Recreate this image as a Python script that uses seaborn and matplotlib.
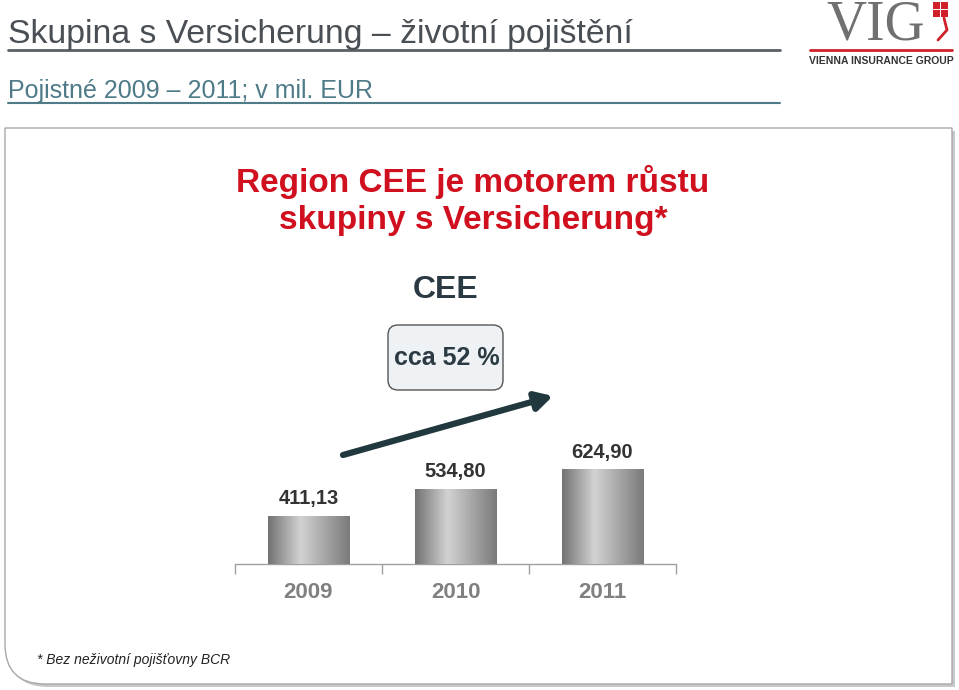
import numpy as np
import pandas as pd
import matplotlib
matplotlib.use("Agg")
import matplotlib.pyplot as plt
import seaborn as sns
from matplotlib.patches import Rectangle, FancyBboxPatch, PathPatch
from matplotlib.path import Path

# =========================
# DATA
# =========================

years = ["2009", "2010", "2011"]
premiums = [411.13, 534.80, 624.90]

title_main = "Skupina s Versicherung \u2013 \u017eivotn\u00ed poji\u0161t\u011bn\u00ed"
title_sub = "Pojistn\u00e9 2009 \u2013 2011; v mil. EUR"
headline = "Region CEE je motorem r\u016fstu\nskupiny s Versicherung*"
region_label = "CEE"
growth_label = "cca 52 %"
footnote = "* Bez ne\u017eivotn\u00ed poji\u0161\u0165ovny BCR"

df = pd.DataFrame({"Year": years, "Premium": premiums})

# =========================
# STYLE
# =========================

sns.set_style("white")
plt.rcParams["font.family"] = ["Liberation Sans", "DejaVu Sans"]

W, H = 959, 690
fig = plt.figure(figsize=(W / 100, H / 100), dpi=100)

# background canvas in pixel coords
bg = fig.add_axes([0, 0, 1, 1])
bg.set_xlim(0, W)
bg.set_ylim(H, 0)
bg.axis("off")

# =========================
# HEADER
# =========================

bg.text(8, 34, title_main, fontsize=24.3, color="#4a4f55", va="center", ha="left")
bg.plot([8, 780], [50, 50], color="#5a6066", lw=2)
bg.text(8, 91, title_sub, fontsize=18, color="#4f7a88", va="center", ha="left")
bg.plot([8, 780], [103, 103], color="#4f7a88", lw=1.5)

# logo
bg.text(876, 25, "VIG", fontsize=40, color="#707070", family="Liberation Serif",
        ha="center", va="center")
for dx, dy in [(0, 0), (8, 0), (0, 8), (8, 8)]:
    bg.add_patch(Rectangle((933 + dx, 2 + dy), 7, 7, color="#d0202a", lw=0))
bg.plot([944, 947, 938], [18, 30, 40], color="#d0202a", lw=2)
bg.plot([810, 952], [50, 50], color="#d0202a", lw=2)
bg.text(881, 61, "VIENNA INSURANCE GROUP", fontsize=7.5, fontweight="bold",
        color="#333333", ha="center", va="center")

# =========================
# PANEL
# =========================

r = 40
verts = [(5, 128), (952, 128), (952, 684), (5 + r, 684), (5, 684), (5, 684 - r), (5, 128)]
codes = [Path.MOVETO, Path.LINETO, Path.LINETO, Path.LINETO, Path.CURVE3, Path.CURVE3, Path.CLOSEPOLY]
shadow = [(x + 3, y + 3) for x, y in verts]
bg.add_patch(PathPatch(Path(shadow, codes), facecolor="#c8c8c8", edgecolor="none"))
bg.add_patch(PathPatch(Path(verts, codes), facecolor="white", edgecolor="#a8a8a8", lw=1))

bg.text(473, 200, headline, fontsize=24, fontweight="bold", color="#d0101e",
        ha="center", va="center", linespacing=1.25)
bg.text(446, 290, region_label, fontsize=23, fontweight="bold", color="#2b3a42",
        ha="center", va="center")

bg.add_patch(FancyBboxPatch((388, 325), 115, 65, boxstyle="round,pad=0,rounding_size=10",
                            facecolor="#eef2f5", edgecolor="#555555", lw=1))
bg.text(447, 358, growth_label, fontsize=18, fontweight="bold", color="#2b3a42",
        ha="center", va="center")

bg.annotate("", xy=(553, 396), xytext=(343, 455),
            arrowprops=dict(arrowstyle="-|>,head_length=1.0,head_width=0.55",
                            color="#22383f", lw=4.5, shrinkA=0, shrinkB=0))

bg.text(37, 660, footnote, fontsize=10, style="italic", color="#222222",
        ha="left", va="center")

# =========================
# BAR CHART
# =========================

ax = fig.add_axes([235 / W, (H - 564) / H, 441 / W, 140 / H])
ax.patch.set_alpha(0)

sns.barplot(data=df, x="Year", y="Premium", ax=ax, width=0.555,
            color="#aaaaaa", saturation=1)

# horizontal gradient fill on bars
g = np.concatenate([np.linspace(0.45, 0.82, 40), np.linspace(0.82, 0.48, 60)])
grad = np.tile(g, (2, 1))
for bar in ax.patches:
    x0, y0 = bar.get_x(), bar.get_y()
    bw, bh = bar.get_width(), bar.get_height()
    y_lo = max(y0, 194)
    im = ax.imshow(grad, cmap="gray", vmin=0, vmax=1, aspect="auto",
                   extent=(x0, x0 + bw, y_lo, y0 + bh), zorder=3)
    im.set_clip_path(bar)
    bar.set_visible(False)
ax.set_xlim(-0.5, 2.5)
ax.set_ylim(194, 832)

for i, v in enumerate(premiums):
    ax.annotate(f"{v:.2f}".replace(".", ","), xy=(i, v), xytext=(0, 12.5),
                textcoords="offset points", ha="center", va="center",
                fontsize=14.5, fontweight="bold", color="#333333")

for side in ["top", "right", "left"]:
    ax.spines[side].set_visible(False)
ax.spines["bottom"].set_color("#a0a0a0")
ax.spines["bottom"].set_linewidth(1)

ax.set_yticks([])
ax.set_xticks(range(len(years)))
ax.set_xticklabels(years, fontsize=16, fontweight="bold", color="#808080")
ax.tick_params(axis="x", which="major", bottom=True, length=0, pad=13)
ax.set_xticks([-0.5, 0.5, 1.5, 2.5], minor=True)
ax.tick_params(axis="x", which="minor", bottom=True, length=7, width=1,
               color="#a0a0a0", direction="out")
ax.set_xlabel("")
ax.set_ylabel("")

fig.savefig("out.png", dpi=100)
